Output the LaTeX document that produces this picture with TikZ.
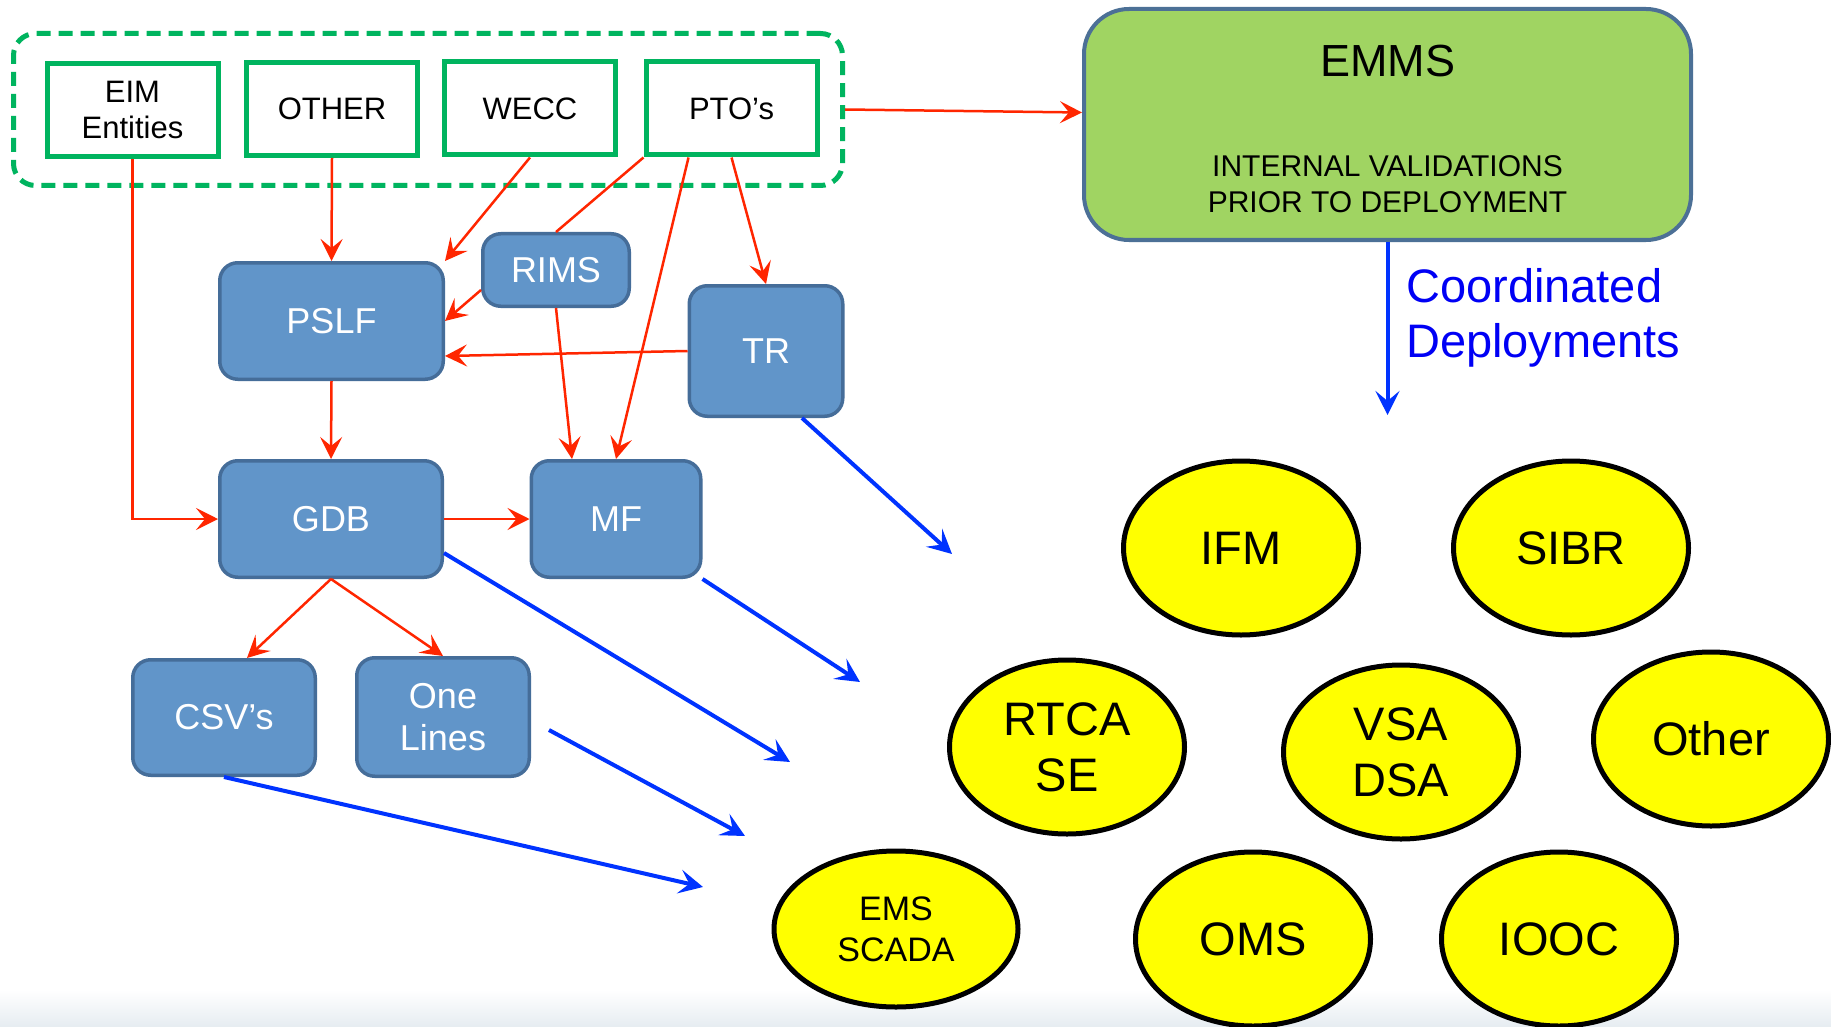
\documentclass[tikz,border=0pt]{standalone}
\usepackage{fontspec}
\setmainfont{Liberation Sans}
\usetikzlibrary{arrows.meta,shapes.geometric}

\definecolor{srcgreen}{RGB}{0,180,95}
\definecolor{boxfill}{RGB}{97,149,201}
\definecolor{boxline}{RGB}{69,109,153}
\definecolor{emmsfill}{RGB}{160,212,98}
\definecolor{emmsline}{RGB}{76,112,150}
\definecolor{feedred}{RGB}{255,38,0}
\definecolor{deployblue}{RGB}{0,51,255}
\definecolor{labelblue}{RGB}{0,0,245}
\definecolor{bubble}{RGB}{255,255,0}
\definecolor{haze}{RGB}{230,236,241}

\begin{document}
\begin{tikzpicture}[x=1pt,y=-1pt,
  source/.style={draw=srcgreen, line width=5pt, fill=white, minimum width=171pt,
    minimum height=93pt, inner sep=0pt, align=center, font=\fontsize{31}{36}\selectfont},
  tool/.style={draw=boxline, fill=boxfill, line width=3.5pt, rounded corners=18pt,
    text=white, inner sep=0pt, align=center, font=\fontsize{36}{42}\selectfont},
  app/.style={ellipse, draw=black, fill=bubble, line width=5pt, minimum width=235pt,
    minimum height=174pt, inner sep=0pt, align=center, font=\fontsize{47}{56}\selectfont},
  feed/.style={draw=feedred, line width=2.5pt, -{Stealth[length=22pt,width=22pt,inset=9pt]}},
  deploy/.style={draw=deployblue, line width=4pt, -{Stealth[length=24pt,width=24pt,inset=10pt]}},
]
% canvas with the soft band along the bottom edge
\fill[white] (0,0) rectangle (1831,1027);
\shade[top color=white, bottom color=haze] (0,990) rectangle (1831,1027);
\useasboundingbox (0,0) rectangle (1831,1027);

% data sources
\node[draw=srcgreen, line width=5pt, dash pattern=on 14pt off 8pt, rounded corners=22pt,
  minimum width=829pt, minimum height=152pt, inner sep=0pt] (group) at (428,109.5) {};
\node[source] (eim) at (132.5,110) {EIM\\Entities};
\node[source] (other) at (332,109) {OTHER};
\node[source] (wecc) at (530,108.5) {WECC};
\node[source] (pto) at (731.5,108.5) {PTO’s};

% model building tools
\node[tool, minimum width=223.5pt, minimum height=116.5pt] (pslf) at (331.5,321) {PSLF};
\node[tool, minimum width=146.5pt, minimum height=72.5pt] (rims) at (556,270) {RIMS};
\node[tool, minimum width=153.5pt, minimum height=130.5pt] (tr) at (766,351) {TR};
\node[tool, minimum width=222.5pt, minimum height=116.5pt] (gdb) at (331,519) {GDB};
\node[tool, minimum width=169.5pt, minimum height=116.5pt] (mf) at (616,519) {MF};
\node[tool, minimum width=182.5pt, minimum height=115.5pt] (csv) at (224,717.5) {CSV’s};
\node[tool, minimum width=172.5pt, minimum height=118.5pt] (onelines) at (443,717) {One\\Lines};

% EMMS validation box
\node[draw=emmsline, fill=emmsfill, line width=4pt, rounded corners=45pt,
  minimum width=607pt, minimum height=231pt, inner sep=0pt] (emms) at (1387.5,124.5) {};
\node[anchor=base, inner sep=0pt, font=\fontsize{45}{54}\selectfont] (emmstitle) at (1387.5,77) {EMMS};
\node[anchor=base, inner sep=0pt, font=\fontsize{30}{36}\selectfont] (emmsline1) at (1387.5,177) {INTERNAL VALIDATIONS};
\node[anchor=base, inner sep=0pt, font=\fontsize{30}{36}\selectfont] (emmsline2) at (1387.5,213) {PRIOR TO DEPLOYMENT};
\node[anchor=base west, inner sep=0pt, text=labelblue, font=\fontsize{47}{55}\selectfont] (coord1) at (1406,302) {Coordinated};
\node[anchor=base west, inner sep=0pt, text=labelblue, font=\fontsize{47}{55}\selectfont] (coord2) at (1406,357) {Deployments};

% applications
\node[app] (ifm) at (1241,548) {IFM};
\node[app] (sibr) at (1571,548) {SIBR};
\node[app] (rtca) at (1067,747) {RTCA\\SE};
\node[app] (vsa) at (1401,752) {VSA\\DSA};
\node[app] (otherapp) at (1711,739) {Other};
\node[app, minimum width=244pt, minimum height=156pt, font=\fontsize{34}{41}\selectfont] (ems) at (896,929) {EMS\\SCADA};
\node[app] (oms) at (1253,939) {OMS};
\node[app] (iooc) at (1559,939) {IOOC};

% data flow (red)
\draw[feed] (eim.south) |- (gdb.west);
\draw[feed] (other.south) -- (pslf.north);
\draw[feed] (wecc.south) -- (pslf.north east);
\draw[feed, -] (pto.south west) -- (rims.north);
\draw[feed] ([yshift=-20pt]rims.west) -- (pslf.east);
\draw[feed] (tr.west) -- ([yshift=-35pt]pslf.east);
\draw[feed] (rims.south) -- ([xshift=-44pt]mf.north);
\draw[feed] ([xshift=-43pt]pto.south) -- (mf.north);
\draw[feed] (pto.south) -- (tr.north);
\draw[feed] (pslf.south) -- (gdb.north);
\draw[feed] (gdb.east) -- (mf.west);
\draw[feed] (gdb.south) -- ([xshift=23pt]csv.north);
\draw[feed] (gdb.south) -- (onelines.north);
\draw[feed] (group.east) -- ([yshift=12pt]emms.west);

% deployments (blue)
\coordinate (d1) at (952,554);
\coordinate (d2) at (860,682);
\coordinate (d3) at (790,762);
\coordinate (d4) at (745,836);
\coordinate (d5) at (703,887);
\coordinate (d6) at (1387.5,415);
\draw[deploy] ([xshift=36pt]tr.south) -- (d1);
\draw[deploy] (mf.south east) -- (d2);
\draw[deploy] ([yshift=-34pt]gdb.east) -- (d3);
\draw[deploy] ([xshift=18pt,yshift=-13pt]onelines.east) -- (d4);
\draw[deploy] (csv.south) -- (d5);
\draw[deploy] (emms.south) -- (d6);
\end{tikzpicture}
\end{document}
